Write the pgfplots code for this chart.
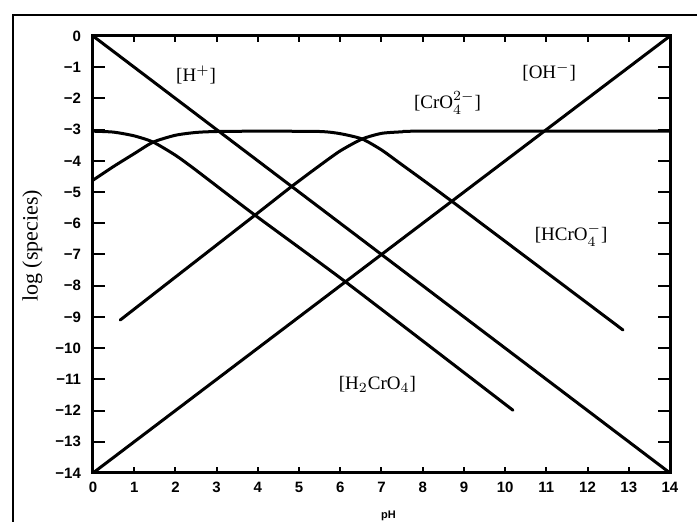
\documentclass[border=0pt]{standalone}
\usepackage{fontspec}
\setmainfont{Liberation Serif}
\setsansfont{Liberation Sans}
\usepackage{pgfplots}
\pgfplotsset{compat=1.18}
\tikzset{spec/.style={black, line width=1.5pt, line join=round, line cap=round}}
\begin{document}
\begin{tikzpicture}
\useasboundingbox (-46.5pt,-24.5pt) rectangle (302pt,236.5pt);
\draw[line width=1pt] (-40pt,-40pt) -- (-40pt,229pt) -- (330pt,229pt);
\begin{axis}[
  scale only axis,
  width=288.5pt, height=218.5pt,
  xmin=0, xmax=14, ymin=-14, ymax=0,
  xtick={0,...,14}, ytick={-14,...,0},
  yticklabels={−14,−13,−12,−11,−10,−9,−8,−7,−6,−5,−4,−3,−2,−1,0},
  tick align=inside,
  xtick pos=both, ytick pos=both,
  xticklabel pos=lower, yticklabel pos=left,
  xtick style={/pgfplots/major tick length=3pt, line width=1pt, black},
  ytick style={/pgfplots/major tick length=6pt, line width=1pt, black},
  /pgf/number format/assume math mode=true,
  tick label style={font=\sffamily\bfseries\fontsize{7.5}{8}\selectfont},
  yticklabel style={xshift=-2.5pt},
  xticklabel style={yshift=-1pt},
  axis line style={line width=1.5pt},
  xlabel={pH},
  xlabel style={font=\sffamily\bfseries\fontsize{5.5}{6}\selectfont, at={(axis description cs:0.512,0)}, anchor=center, yshift=-21.5pt},
  ylabel={log (species)},
  ylabel style={font=\fontsize{11}{12}\selectfont, at={(axis description cs:-0.105,0.52)}, anchor=center, rotate=0},
]
% [H+]
\addplot[spec] coordinates {(0,0) (14,-14)};
% [OH-]
\addplot[spec] coordinates {(0,-14) (14,0)};
% [H2CrO4]
\addplot[spec, smooth, tension=0.4] coordinates {(0,-3.05) (0.5,-3.08) (1.0,-3.2) (1.46,-3.40) (2.0,-3.82) (2.5,-4.3) (3.93,-5.74) (6.17,-7.92) (10.19,-11.99)};
% [HCrO4-]
\addplot[spec, smooth, tension=0.4] coordinates {(0,-4.62) (0.5,-4.18) (1.0,-3.77) (1.46,-3.40) (2.0,-3.18) (2.5,-3.09) (3.0,-3.06) (4.0,-3.05) (5.5,-3.06) (6.0,-3.13) (6.53,-3.30) (7.0,-3.65) (7.45,-4.08) (8.67,-5.26) (12.86,-9.42)};
% [CrO4 2-]
\addplot[spec, smooth, tension=0.4] coordinates {(0.66,-9.10) (3.93,-5.74) (4.83,-4.81) (5.5,-4.15) (6.0,-3.68) (6.53,-3.30) (7.0,-3.12) (7.5,-3.07) (8.0,-3.05) (14,-3.05)};
\node[font=\fontsize{9.5}{10}\selectfont] at (axis cs:2.5,-1.25) {[H$^{+}$]};
\node[font=\fontsize{9.5}{10}\selectfont] at (axis cs:11.07,-1.15) {[OH$^{-}$]};
\node[font=\fontsize{9.5}{10}\selectfont] at (axis cs:8.6,-2.15) {[CrO$_4^{2-}$]};
\node[font=\fontsize{9.5}{10}\selectfont] at (axis cs:11.6,-6.38) {[HCrO$_4^{-}$]};
\node[font=\fontsize{9.5}{10}\selectfont] at (axis cs:6.9,-11.15) {[H$_2$CrO$_4$]};
\end{axis}
\end{tikzpicture}
\end{document}
